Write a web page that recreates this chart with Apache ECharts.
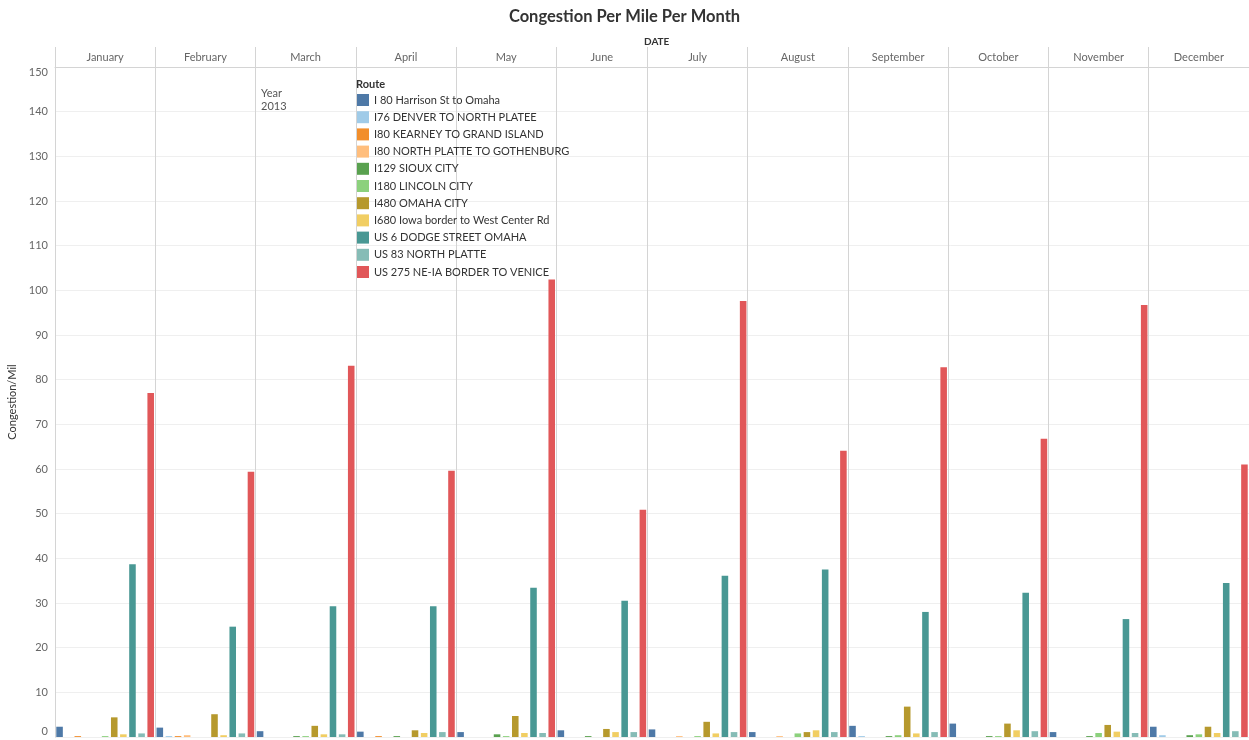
<!DOCTYPE html>
<html><head><meta charset="utf-8">
<script src="https://cdn.jsdelivr.net/npm/echarts@6/dist/echarts.min.js"></script>
<style>html,body{margin:0;padding:0;background:#fff}#c{width:1249px;height:740px}</style>
</head><body><div id="c"></div>
<script>
const months = ['January','February','March','April','May','June','July','August','September','October','November','December'];
const routes = ['I 80 Harrison St to Omaha','I76 DENVER TO NORTH PLATEE','I80 KEARNEY TO GRAND ISLAND','I80 NORTH PLATTE TO GOTHENBURG','I129 SIOUX CITY','I180 LINCOLN CITY','I480 OMAHA CITY','I680 Iowa border to West Center Rd','US 6 DODGE STREET OMAHA','US 83 NORTH PLATTE','US 275 NE-IA BORDER TO VENICE'];
const routeColors = ['#4E79A7','#A0CBE8','#F28E2B','#FFBE7D','#59A14F','#8CD17D','#B6992D','#F1CE63','#499894','#86BCB6','#E15759'];

// values Jan..Dec (null = route absent in that month)
const vI80Harrison   = [2.3, 2.1, 1.3, 1.2, 1.1, 1.5, 1.7, 1.1, 2.5, 3.0, 1.1, 2.3];
const vI76Denver     = [0, 0.2, 0, 0, 0, 0, 0, 0, 0.2, 0, 0, 0.4];
const vI80Kearney    = [0.2, 0.2, 0, 0.2, 0, null, 0, 0, 0, 0, 0, 0];
const vI80NPlatte    = [0, 0.4, 0, 0, 0, 0, 0.2, 0.2, 0, 0, 0, 0];
const vI129Sioux     = [0, 0, 0.2, 0.2, 0.6, 0.2, 0, 0, 0.2, 0.2, 0.2, 0.4];
const vI180Lincoln   = [0.2, 0, 0.2, 0, 0.2, 0, 0.2, 0.8, 0.4, 0.2, 0.9, 0.6];
const vI480Omaha     = [4.4, 5.1, 2.5, 1.5, 4.7, 1.8, 3.4, 1.1, 6.8, 3.0, 2.7, 2.3];
const vI680Iowa      = [0.6, 0.4, 0.6, 0.9, 0.9, 1.1, 0.8, 1.5, 0.8, 1.5, 1.2, 0.9];
const vUS6Dodge      = [38.7, 24.7, 29.3, 29.3, 33.4, 30.5, 36.1, 37.5, 28.0, 32.3, 26.4, 34.5];
const vUS83NPlatte   = [0.8, 0.8, 0.6, 1.1, 0.9, 1.1, 1.1, 1.1, 1.1, 1.3, 0.9, 1.3];
const vUS275Venice   = [77.0, 59.4, 83.1, 59.6, 102.4, 50.9, 97.6, 64.1, 82.8, 66.8, 96.7, 61.0];
const routeValues = [vI80Harrison, vI76Denver, vI80Kearney, vI80NPlatte, vI129Sioux, vI180Lincoln, vI480Omaha, vI680Iowa, vUS6Dodge, vUS83NPlatte, vUS275Venice];

const yMin = 0, yMax = 150, yStep = 10;

// build flat slot list (one slot per month/route present)
const slots = [], monthStart = [], monthCount = [];
months.forEach((m, mi) => {
  monthStart.push(slots.length);
  let n = 0;
  routes.forEach((r, ri) => {
    if (routeValues[ri][mi] !== null) { slots.push({mi, ri}); n++; }
  });
  monthCount.push(n);
});
const N = slots.length;
const slotCats = slots.map(s => months[s.mi] + '|' + routes[s.ri]);
const halfCats = Array.from({length: 2 * N + 1}, (_, i) => String(i));
const centerLabel = {};
months.forEach((m, mi) => { centerLabel[2 * monthStart[mi] + monthCount[mi]] = m; });
const boundaries = new Set(monthStart.map(s => 2 * s));

const series = routes.map((r, ri) => ({
  name: r, type: 'bar', stack: 'all', xAxisIndex: 0, yAxisIndex: 0,
  barCategoryGap: '28%',
  itemStyle: {color: routeColors[ri]},
  emphasis: {disabled: true},
  data: slots.map(s => s.ri === ri ? routeValues[ri][s.mi] : null)
}));

const lineCol = '#d4d4d4';
const chart = echarts.init(document.getElementById('c'), null, {renderer: 'canvas'});
chart.setOption({
  animation: false,
  backgroundColor: '#fff',
  textStyle: {fontFamily: 'Lato'},
  title: [
    {text: 'Congestion Per Mile Per Month', left: 'center', top: 3, textStyle: {fontSize: 16.5, fontWeight: 'bold', color: '#333', fontFamily: 'Lato'}},
    {text: 'DATE', left: 639, top: 32, textStyle: {fontSize: 10, fontWeight: 'bold', color: '#333'}},
    {text: 'Route', left: 356, top: 79, padding: 0, textStyle: {fontSize: 11, fontWeight: 'bold', color: '#333'}},
    {text: 'Year\n2013', left: 261, top: 87, padding: 0, textStyle: {fontSize: 11, fontWeight: 'normal', color: '#555', lineHeight: 13}}
  ],
  legend: {
    orient: 'vertical', left: 357, top: 94, padding: 0,
    itemWidth: 12, itemHeight: 12, itemGap: 5.2, icon: 'rect', selectedMode: false,
    textStyle: {fontSize: 11, color: '#333', lineHeight: 12},
    data: routes
  },
  grid: [
    {left: 55, right: 0, top: 67, bottom: 3, outerBoundsMode: 'none', containLabel: false},
    {left: 55, right: 0, top: 47, height: 20, outerBoundsMode: 'none', containLabel: false}
  ],
  xAxis: [
    {gridIndex: 0, type: 'category', data: slotCats, show: false},
    {gridIndex: 1, type: 'category', data: halfCats, boundaryGap: false, position: 'bottom',
      axisLine: {show: true, lineStyle: {color: lineCol}}, axisTick: {show: false},
      axisLabel: {inside: true, margin: 4, color: '#666', fontSize: 11,
        interval: (i) => centerLabel[i] !== undefined,
        formatter: (v, i) => centerLabel[i] || ''},
      splitLine: {show: true, interval: (i) => boundaries.has(i), lineStyle: {color: lineCol}}},
    {gridIndex: 0, type: 'category', data: halfCats, boundaryGap: false,
      axisLine: {show: false}, axisTick: {show: false}, axisLabel: {show: false},
      splitLine: {show: true, interval: (i) => boundaries.has(i) && i > 0, lineStyle: {color: lineCol}}}
  ],
  yAxis: [
    {gridIndex: 0, type: 'value', min: yMin, max: yMax, interval: yStep,
      name: 'Congestion/Mil', nameLocation: 'middle', nameGap: 31, nameRotate: 90,
      nameTextStyle: {color: '#333', fontSize: 11},
      axisLine: {show: true, lineStyle: {color: lineCol}}, axisTick: {show: false},
      axisLabel: {color: '#666', fontSize: 11, margin: 7, verticalAlignMinLabel: 'bottom', verticalAlignMaxLabel: 'top'},
      splitLine: {show: true, lineStyle: {color: '#efefef'}}},
    {gridIndex: 1, type: 'value', show: false}
  ],
  series: series
});
</script></body></html>
